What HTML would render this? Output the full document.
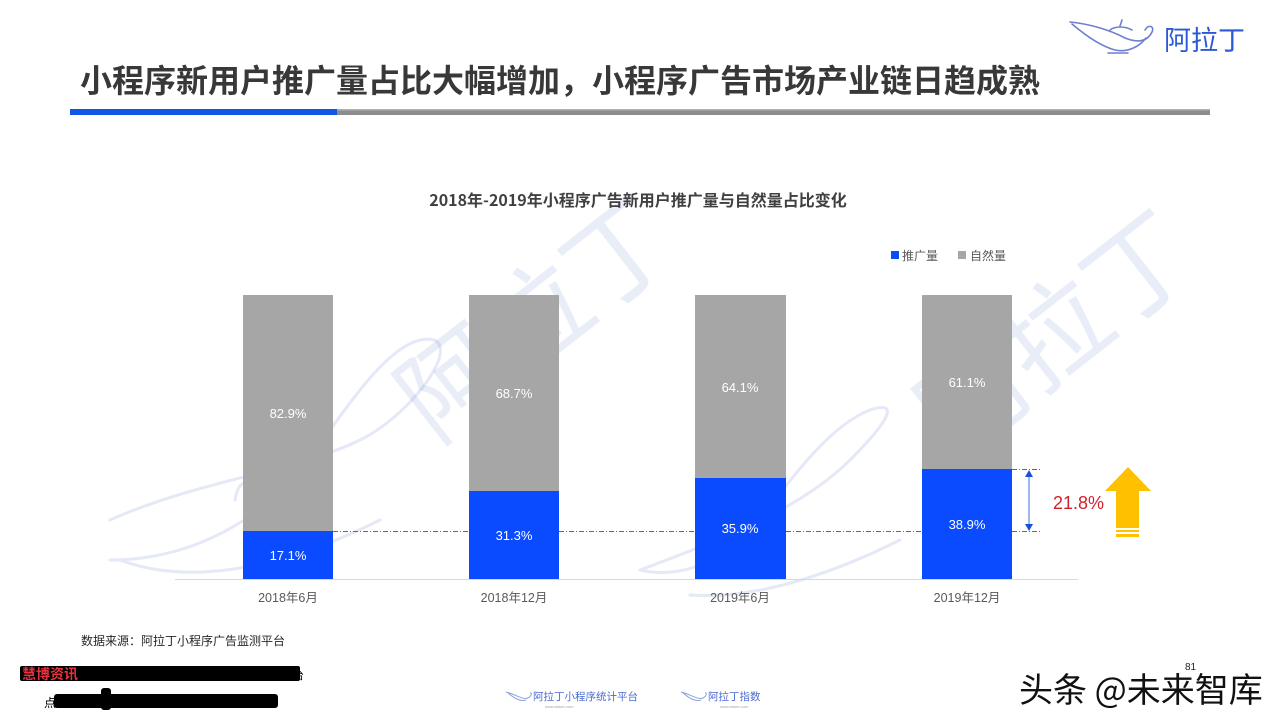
<!DOCTYPE html>
<html>
<head>
<meta charset="utf-8">
<style>
html,body{margin:0;padding:0;background:#fff;}
body{width:1280px;height:720px;overflow:hidden;}
svg{display:block;}
text{font-family:"Liberation Sans","Noto Sans CJK SC",sans-serif;}
.cjk{font-family:"Noto Sans CJK SC","Liberation Sans",sans-serif;}
</style>
</head>
<body>
<svg width="1280" height="720" viewBox="0 0 1280 720" xmlns="http://www.w3.org/2000/svg">
  <rect width="1280" height="720" fill="#ffffff"/>

  <!-- watermarks -->
  <g opacity="0.11" fill="#3a5cc0">
    <text class="cjk" x="0" y="0" font-size="105" transform="translate(435,445) rotate(-38)">阿拉丁</text>
    <text class="cjk" x="0" y="0" font-size="105" transform="translate(955,460) rotate(-38)">阿拉丁</text>
  </g>
  <g opacity="0.14" fill="none" stroke="#4a63c4" stroke-width="3" stroke-linecap="round">
    <path d="M110 520 C 200 480, 300 470, 360 440 C 420 410, 470 330, 420 340 C 380 350, 340 420, 300 470 C 250 530, 180 560, 110 560"/>
    <path d="M260 520 C 260 480, 240 470, 235 500"/>
    <path d="M120 560 C 200 590, 300 560, 380 520"/>
    <path d="M640 570 C 720 540, 800 510, 850 460 C 890 420, 900 400, 870 410 C 830 425, 790 480, 760 520 C 730 560, 680 580, 640 570"/>
    <path d="M780 480 C 780 460, 770 455, 765 470"/>
    <path d="M690 595 C 760 600, 840 570, 900 540"/>
  </g>

  <!-- Title -->
  <text class="cjk" x="80" y="92" font-size="32" font-weight="bold" fill="#383838">小程序新用户推广量占比大幅增加，小程序广告市场产业链日趋成熟</text>
  <rect x="70" y="109" width="267" height="6" fill="#1157e6"/>
  <rect x="337" y="109" width="873" height="6" fill="#8c8c8c"/>
  <rect x="337" y="109" width="873" height="1.5" fill="#b0b0b0"/>

  <!-- top right logo -->
  <g fill="none" stroke="#6f7fd0" stroke-width="1.6" stroke-linecap="round">
    <path d="M1070 22 C 1090 24, 1110 30, 1125 38 C 1140 44, 1148 40, 1152 32 C 1155 26, 1148 24, 1145 30"/>
    <path d="M1072 24 C 1085 35, 1100 46, 1115 50 C 1128 53, 1140 46, 1146 38"/>
    <path d="M1110 30 C 1115 26, 1125 26, 1132 30"/>
    <path d="M1120 26 L1122 20"/>
    <path d="M1108 53 L1128 53"/>
  </g>
  <text class="cjk" x="1164" y="50" font-size="27" fill="#2c5ad6">阿拉丁</text>

  <!-- chart title -->
  <text class="cjk" x="638" y="206" font-size="16" font-weight="bold" fill="#404040" text-anchor="middle">2018年-2019年小程序广告新用户推广量与自然量占比变化</text>

  <!-- legend -->
  <rect x="891" y="251" width="8" height="8" fill="#0a4bff"/>
  <text class="cjk" x="902" y="260" font-size="12" fill="#595959">推广量</text>
  <rect x="958" y="251" width="8" height="8" fill="#a6a6a6"/>
  <text class="cjk" x="970" y="260" font-size="12" fill="#595959">自然量</text>

  <!-- bars -->
  <rect x="243" y="295" width="90" height="236" fill="#a6a6a6"/>
  <rect x="243" y="531" width="90" height="48" fill="#0a4bff"/>
  <rect x="469" y="295" width="90" height="196" fill="#a6a6a6"/>
  <rect x="469" y="491" width="90" height="88" fill="#0a4bff"/>
  <rect x="695" y="295" width="91" height="183" fill="#a6a6a6"/>
  <rect x="695" y="478" width="91" height="101" fill="#0a4bff"/>
  <rect x="922" y="295" width="90" height="174" fill="#a6a6a6"/>
  <rect x="922" y="469" width="90" height="110" fill="#0a4bff"/>

  <!-- axis -->
  <line x1="175" y1="579.5" x2="1078" y2="579.5" stroke="#d9d9d9" stroke-width="1"/>

  <!-- data labels -->
  <g font-size="13" fill="#ffffff" text-anchor="middle">
    <text x="288" y="418">82.9%</text>
    <text x="288" y="560">17.1%</text>
    <text x="514" y="398">68.7%</text>
    <text x="514" y="540">31.3%</text>
    <text x="740" y="392">64.1%</text>
    <text x="740" y="533">35.9%</text>
    <text x="967" y="387">61.1%</text>
    <text x="967" y="529">38.9%</text>
  </g>

  <!-- x labels -->
  <g class="cjk" font-size="12.5" fill="#595959" text-anchor="middle">
    <text x="288" y="602">2018年6月</text>
    <text x="514" y="602">2018年12月</text>
    <text x="740" y="602">2019年6月</text>
    <text x="967" y="602">2019年12月</text>
  </g>

  <!-- dash-dot lines -->
  <g stroke="#4d6a9c" stroke-width="1" stroke-dasharray="5 2 1 2" fill="none">
    <line x1="333" y1="531.5" x2="469" y2="531.5"/>
    <line x1="559" y1="531.5" x2="695" y2="531.5"/>
    <line x1="786" y1="531.5" x2="922" y2="531.5"/>
    <line x1="1012" y1="531.5" x2="1042" y2="531.5"/>
    <line x1="1012" y1="469.5" x2="1042" y2="469.5"/>
  </g>

  <!-- double arrow -->
  <line x1="1029" y1="476" x2="1029" y2="524" stroke="#7aa0ea" stroke-width="1.5"/>
  <polygon points="1029,470 1025,477 1033,477" fill="#1a4fd8"/>
  <polygon points="1029,531 1025,524 1033,524" fill="#1a4fd8"/>

  <text x="1053" y="509" font-size="18" fill="#d4202a">21.8%</text>

  <!-- yellow arrow -->
  <polygon points="1128,467 1151,491 1139,491 1139,528 1116,528 1116,491 1105,491" fill="#ffc000"/>
  <rect x="1116" y="530" width="23" height="2" fill="#ffc000"/>
  <rect x="1116" y="534" width="23" height="3" fill="#ffc000"/>

  <!-- source -->
  <text class="cjk" x="81" y="645" font-size="12" fill="#262626">数据来源：阿拉丁小程序广告监测平台</text>

  <!-- bottom-left overlays -->
  <rect x="20" y="666" width="280" height="15" rx="2" fill="#000"/>
  <text class="cjk" x="22" y="679" font-size="14" font-weight="bold" fill="#e8323c">慧博资讯</text>
  <text class="cjk" x="293" y="679" font-size="11" fill="#000">台</text>
  <text class="cjk" x="44" y="707" font-size="12" fill="#000">点</text>
  <rect x="54" y="694" width="224" height="14" rx="3" fill="#000"/>
  <rect x="101" y="688" width="10" height="22" rx="3" fill="#000"/>

  <!-- footer logos -->
  <g fill="none" stroke="#8aa0dc" stroke-width="1">
    <path d="M506 692 C 515 694, 522 700, 528 698 C 532 696, 532 692, 530 693"/>
    <path d="M508 693 C 514 698, 520 702, 526 700"/>
    <path d="M681 692 C 690 694, 697 700, 703 698 C 707 696, 707 692, 705 693"/>
    <path d="M683 693 C 689 698, 695 702, 701 700"/>
  </g>
  <text class="cjk" x="533" y="700" font-size="10.5" fill="#4a6bd0">阿拉丁小程序统计平台</text>
  <text class="cjk" x="708" y="700" font-size="10.5" fill="#4a6bd0">阿拉丁指数</text>
  <text x="545" y="708" font-size="4" fill="#9aa">www.aldwx.com</text>
  <text x="720" y="708" font-size="4" fill="#9aa">www.aldwx.com</text>

  <!-- watermark 头条 -->
  <text class="cjk" x="1019" y="702" font-size="34" fill="#ffffff" stroke="#ffffff" stroke-width="3">头条 @未来智库</text>
  <text class="cjk" x="1019" y="702" font-size="34" fill="#111111">头条 @未来智库</text>
  <text x="1185" y="670" font-size="10" fill="#222">81</text>
</svg>
</body>
</html>
